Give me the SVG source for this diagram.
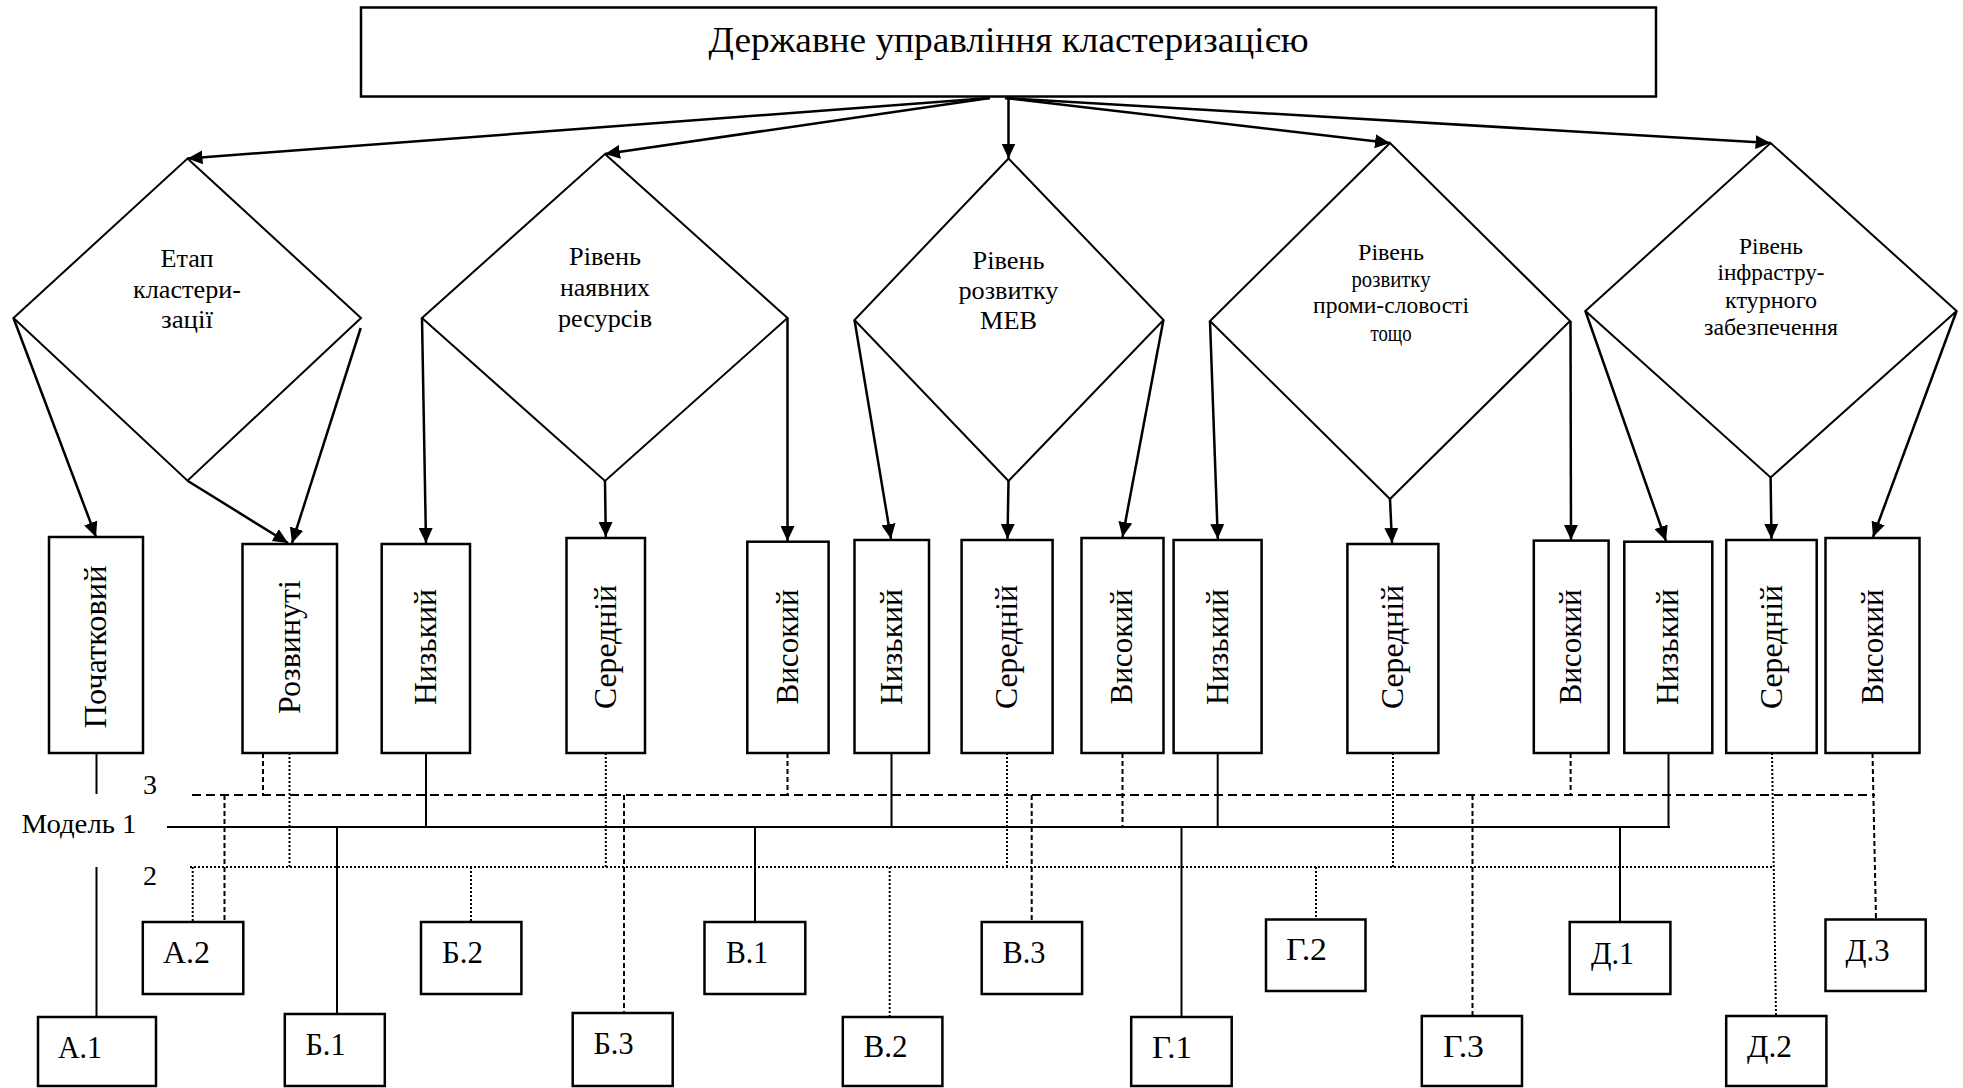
<svg xmlns="http://www.w3.org/2000/svg" width="1963" height="1088" viewBox="0 0 1963 1088">
<style>
  text { font-family: "Liberation Serif", "DejaVu Serif", "Times New Roman", serif; fill: #000; }
  .box { fill: #fff; stroke: #000; stroke-width: 2.5; }
  .dia { fill: none; stroke: #000; stroke-width: 2; }
  .arr { fill: none; stroke: #000; stroke-width: 2.5; marker-end: url(#ah); }
  .sol { fill: none; stroke: #000; stroke-width: 2; }
  .dsh { fill: none; stroke: #000; stroke-width: 2; stroke-dasharray: 9 5; }
  .dshv { fill: none; stroke: #000; stroke-width: 2; stroke-dasharray: 5 3; }
  .dot { fill: none; stroke: #000; stroke-width: 2; stroke-dasharray: 2 2; }
  .title { font-size: 36px; text-anchor: middle; }
  .dt { font-size: 26px; text-anchor: middle; }
  .dt2 { font-size: 23px; text-anchor: middle; }
  .vt { font-size: 32px; text-anchor: middle; }
  .lb { font-size: 31px; }
  .ml { font-size: 28px; }
</style>
<defs>
  <marker id="ah" markerUnits="userSpaceOnUse" markerWidth="16" markerHeight="14" refX="15" refY="7" orient="auto">
    <path d="M0,0 L15,7 L0,14 z" fill="#000"/>
  </marker>
</defs>
<rect width="1963" height="1088" fill="#fff"/>

<g id="top">
  <rect class="box" x="361" y="7.5" width="1295" height="89"/>
  <text class="title" x="1008.5" y="52" textLength="600" lengthAdjust="spacingAndGlyphs">Державне управління кластеризацією</text>
</g>

<g id="d1">
  <polygon class="dia" points="187.5,158.5 361,318 187.5,480.7 13.5,318"/>
  <text class="dt" x="187" y="267" textLength="53" lengthAdjust="spacingAndGlyphs">Етап</text>
  <text class="dt" x="187" y="298" textLength="108" lengthAdjust="spacingAndGlyphs">кластери-</text>
  <text class="dt" x="187" y="328" textLength="52" lengthAdjust="spacingAndGlyphs">зації</text>
</g>
<g id="d2">
  <polygon class="dia" points="605,154 787.5,318 605,481 422,318"/>
  <text class="dt" x="605" y="265" textLength="72" lengthAdjust="spacingAndGlyphs">Рівень</text>
  <text class="dt" x="605" y="296" textLength="90" lengthAdjust="spacingAndGlyphs">наявних</text>
  <text class="dt" x="605" y="327" textLength="94" lengthAdjust="spacingAndGlyphs">ресурсів</text>
</g>
<g id="d3">
  <polygon class="dia" points="1008.5,158.5 1163.5,320 1008.5,481 854.5,320"/>
  <text class="dt" x="1008.5" y="269" textLength="72" lengthAdjust="spacingAndGlyphs">Рівень</text>
  <text class="dt" x="1008.5" y="299" textLength="100" lengthAdjust="spacingAndGlyphs">розвитку</text>
  <text class="dt" x="1008.5" y="329" textLength="57" lengthAdjust="spacingAndGlyphs">МЕВ</text>
</g>
<g id="d4">
  <polygon class="dia" points="1390,143 1570,321 1390,499 1210,321"/>
  <text class="dt2" x="1391" y="260" textLength="66" lengthAdjust="spacingAndGlyphs">Рівень</text>
  <text class="dt2" x="1391" y="287" textLength="79" lengthAdjust="spacingAndGlyphs">розвитку</text>
  <text class="dt2" x="1391" y="313" textLength="156" lengthAdjust="spacingAndGlyphs">проми-словості</text>
  <text class="dt2" x="1391" y="341" textLength="41" lengthAdjust="spacingAndGlyphs">тощо</text>
</g>
<g id="d5">
  <polygon class="dia" points="1770.6,143 1956.6,311 1770.6,477.5 1585.4,311"/>
  <text class="dt2" x="1771" y="254" textLength="64" lengthAdjust="spacingAndGlyphs">Рівень</text>
  <text class="dt2" x="1771" y="280" textLength="107" lengthAdjust="spacingAndGlyphs">інфрастру-</text>
  <text class="dt2" x="1771" y="308" textLength="92" lengthAdjust="spacingAndGlyphs">ктурного</text>
  <text class="dt2" x="1771" y="335" textLength="134" lengthAdjust="spacingAndGlyphs">забезпечення</text>
</g>

<g id="v1"><rect class="box" x="49" y="537" width="94" height="216"/><text class="vt" transform="translate(106,647) rotate(-90)" textLength="163" lengthAdjust="spacingAndGlyphs">Початковий</text></g>
<g id="v2"><rect class="box" x="242.5" y="544" width="94.5" height="209"/><text class="vt" transform="translate(300,647) rotate(-90)" textLength="134" lengthAdjust="spacingAndGlyphs">Розвинуті</text></g>
<g id="v3"><rect class="box" x="381.7" y="544" width="88.3" height="209"/><text class="vt" transform="translate(436,647) rotate(-90)" textLength="116" lengthAdjust="spacingAndGlyphs">Низький</text></g>
<g id="v4"><rect class="box" x="566.5" y="538" width="78.5" height="215"/><text class="vt" transform="translate(616,647) rotate(-90)" textLength="124" lengthAdjust="spacingAndGlyphs">Середній</text></g>
<g id="v5"><rect class="box" x="747.3" y="541.7" width="81.3" height="211.3"/><text class="vt" transform="translate(798,647) rotate(-90)" textLength="115" lengthAdjust="spacingAndGlyphs">Високий</text></g>
<g id="v6"><rect class="box" x="854.5" y="540" width="74.5" height="213"/><text class="vt" transform="translate(902,647) rotate(-90)" textLength="116" lengthAdjust="spacingAndGlyphs">Низький</text></g>
<g id="v7"><rect class="box" x="961.6" y="540" width="91" height="213"/><text class="vt" transform="translate(1017,647) rotate(-90)" textLength="124" lengthAdjust="spacingAndGlyphs">Середній</text></g>
<g id="v8"><rect class="box" x="1081.5" y="538" width="82" height="215"/><text class="vt" transform="translate(1132,647) rotate(-90)" textLength="115" lengthAdjust="spacingAndGlyphs">Високий</text></g>
<g id="v9"><rect class="box" x="1173.6" y="540" width="88" height="213"/><text class="vt" transform="translate(1228,647) rotate(-90)" textLength="116" lengthAdjust="spacingAndGlyphs">Низький</text></g>
<g id="v10"><rect class="box" x="1347.4" y="544" width="91" height="209"/><text class="vt" transform="translate(1403,647) rotate(-90)" textLength="124" lengthAdjust="spacingAndGlyphs">Середній</text></g>
<g id="v11"><rect class="box" x="1533.8" y="540.6" width="74.8" height="212.4"/><text class="vt" transform="translate(1581,647) rotate(-90)" textLength="115" lengthAdjust="spacingAndGlyphs">Високий</text></g>
<g id="v12"><rect class="box" x="1624.3" y="541.7" width="88" height="211.3"/><text class="vt" transform="translate(1678,647) rotate(-90)" textLength="116" lengthAdjust="spacingAndGlyphs">Низький</text></g>
<g id="v13"><rect class="box" x="1726.2" y="540" width="90.5" height="213"/><text class="vt" transform="translate(1782,647) rotate(-90)" textLength="124" lengthAdjust="spacingAndGlyphs">Середній</text></g>
<g id="v14"><rect class="box" x="1825.5" y="538" width="94" height="215"/><text class="vt" transform="translate(1883,647) rotate(-90)" textLength="115" lengthAdjust="spacingAndGlyphs">Високий</text></g>

<g id="labels">
  <text class="ml" x="150" y="794" text-anchor="middle">3</text>
  <text class="ml" x="21.5" y="832.5" textLength="115" lengthAdjust="spacingAndGlyphs">Модель 1</text>
  <text class="ml" x="150" y="885" text-anchor="middle">2</text>
</g>

<g id="connectors">
  <path class="arr" d="M990,98 L187.5,158.5"/>
  <path class="arr" d="M990,98 L605,154"/>
  <path class="arr" d="M1008.5,97 L1008.5,158.5"/>
  <path class="arr" d="M1005,98 L1390,143"/>
  <path class="arr" d="M1005,98 L1770.6,143"/>

  <path class="arr" d="M13.5,318 L96,537"/>
  <path class="arr" d="M187.5,480.7 L288,543"/>
  <path class="arr" d="M360.7,328 L292,543"/>
  <path class="arr" d="M422,318 L426,543"/>
  <path class="arr" d="M605,481 L605.8,537"/>
  <path class="arr" d="M787.5,318 L787.5,541"/>
  <path class="arr" d="M854.5,320 L891,539"/>
  <path class="arr" d="M1008.5,481 L1007.5,539"/>
  <path class="arr" d="M1163.4,320 L1122.5,537"/>
  <path class="arr" d="M1210,321 L1217.8,539"/>
  <path class="arr" d="M1390,499 L1392,543"/>
  <path class="arr" d="M1570.5,321 L1571,540"/>
  <path class="arr" d="M1585.4,311 L1666,541"/>
  <path class="arr" d="M1770.6,477.5 L1771.5,539"/>
  <path class="arr" d="M1956.6,311 L1873,537"/>

  <path class="dsh" d="M192,795 L1875,795"/>
  <path class="sol" d="M167,827 L1670,827"/>
  <path class="dot" d="M190,867 L1772,867"/>

  <path class="sol" d="M96.5,753 V794 M96.5,867 V1017"/>
  <path class="sol" d="M426,753 V827"/>
  <path class="sol" d="M337,827 V1014"/>
  <path class="sol" d="M891.5,753 V827"/>
  <path class="sol" d="M755,827 V922"/>
  <path class="sol" d="M1217.7,753 V827"/>
  <path class="sol" d="M1181.5,827 V1017"/>
  <path class="sol" d="M1668.5,753 V827"/>
  <path class="sol" d="M1620,827 V922"/>

  <path class="dshv" d="M263,753 V795"/>
  <path class="dshv" d="M224.5,795 V922"/>
  <path class="dshv" d="M624,795 V1013"/>
  <path class="dshv" d="M787.5,753 V795"/>
  <path class="dshv" d="M1031.7,795 V922"/>
  <path class="dshv" d="M1122.5,753 V827"/>
  <path class="dshv" d="M1472.5,795 V1016"/>
  <path class="dshv" d="M1570.6,753 V795"/>
  <path class="dshv" d="M1872.5,753 L1876,919.5"/>

  <path class="dot" d="M289.5,753 V867"/>
  <path class="dot" d="M192.7,867 V922"/>
  <path class="dot" d="M471,867 V922"/>
  <path class="dot" d="M605.8,753 V867"/>
  <path class="dot" d="M1007,753 V867"/>
  <path class="dot" d="M889.7,867 V1017"/>
  <path class="dot" d="M1316,867 V919.5"/>
  <path class="dot" d="M1393,753 V867"/>
  <path class="dot" d="M1772,753 L1776,1016"/>
</g>

<g id="a1"><rect class="box" x="38" y="1017" width="118" height="69"/><text class="lb" x="58" y="1058" textLength="44" lengthAdjust="spacingAndGlyphs">А.1</text></g>
<g id="a2"><rect class="box" x="142.8" y="922" width="100.5" height="72"/><text class="lb" x="163" y="962.5" textLength="47" lengthAdjust="spacingAndGlyphs">А.2</text></g>
<g id="b1"><rect class="box" x="284.8" y="1014" width="100" height="72"/><text class="lb" x="305.5" y="1055" textLength="40" lengthAdjust="spacingAndGlyphs">Б.1</text></g>
<g id="b2"><rect class="box" x="421" y="922" width="100.4" height="72"/><text class="lb" x="442" y="962.5" textLength="41" lengthAdjust="spacingAndGlyphs">Б.2</text></g>
<g id="b3"><rect class="box" x="572.7" y="1013" width="100" height="73"/><text class="lb" x="593.5" y="1054" textLength="40" lengthAdjust="spacingAndGlyphs">Б.3</text></g>
<g id="c1"><rect class="box" x="704.5" y="922" width="100.8" height="72"/><text class="lb" x="726" y="962.5" textLength="42" lengthAdjust="spacingAndGlyphs">В.1</text></g>
<g id="c2"><rect class="box" x="842.8" y="1017" width="99.6" height="69"/><text class="lb" x="863.5" y="1057" textLength="44" lengthAdjust="spacingAndGlyphs">В.2</text></g>
<g id="c3"><rect class="box" x="981.7" y="922" width="100.4" height="72"/><text class="lb" x="1002.5" y="962.5" textLength="43" lengthAdjust="spacingAndGlyphs">В.3</text></g>
<g id="g1"><rect class="box" x="1131.2" y="1017" width="100.5" height="69"/><text class="lb" x="1152" y="1058" textLength="40" lengthAdjust="spacingAndGlyphs">Г.1</text></g>
<g id="g2"><rect class="box" x="1266" y="919.5" width="99.5" height="71.5"/><text class="lb" x="1286" y="960" textLength="41" lengthAdjust="spacingAndGlyphs">Г.2</text></g>
<g id="g3"><rect class="box" x="1421.8" y="1016" width="100.2" height="70"/><text class="lb" x="1443" y="1057" textLength="41" lengthAdjust="spacingAndGlyphs">Г.3</text></g>
<g id="e1"><rect class="box" x="1569.7" y="922" width="100.7" height="72"/><text class="lb" x="1591" y="963.5" textLength="43" lengthAdjust="spacingAndGlyphs">Д.1</text></g>
<g id="e2"><rect class="box" x="1726.2" y="1016" width="100.2" height="70"/><text class="lb" x="1747" y="1057" textLength="45" lengthAdjust="spacingAndGlyphs">Д.2</text></g>
<g id="e3"><rect class="box" x="1825.5" y="919.5" width="100.2" height="71.5"/><text class="lb" x="1845.5" y="961" textLength="44" lengthAdjust="spacingAndGlyphs">Д.3</text></g>
</svg>
